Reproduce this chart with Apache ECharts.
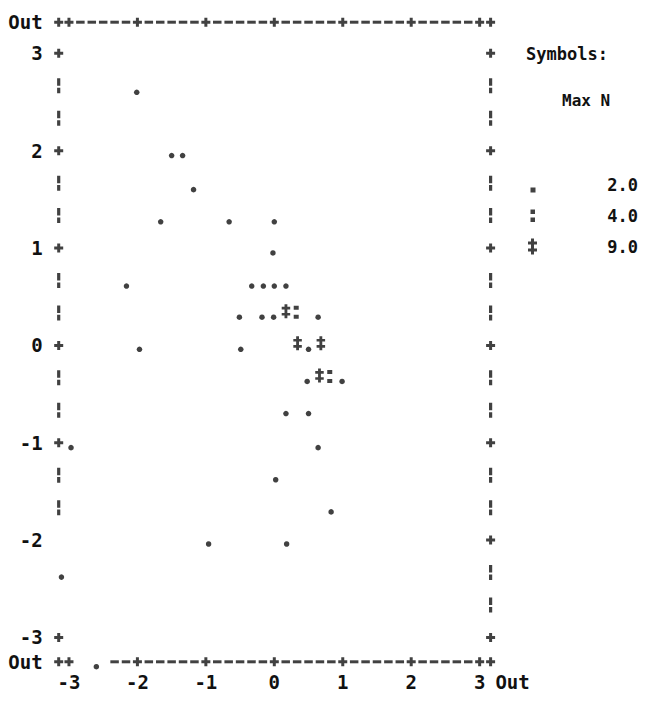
<!DOCTYPE html>
<html><head><meta charset="utf-8">
<script src="https://cdn.jsdelivr.net/npm/echarts@6/dist/echarts.min.js"></script>
<style>html,body{margin:0;padding:0;background:#fff}#c{width:646px;height:710px}</style>
</head><body><div id="c"></div>
<script>
// ---- data ----
const xTicks = [-3, -2, -1, 0, 1, 2, 3];
const yTicks = [-3, -2, -1, 0, 1, 2, 3];
// cells holding 1-2 cases (".")
const dots = [
  [-2.01, 2.60],
  [-1.50, 1.95], [-1.34, 1.95],
  [-1.18, 1.60],
  [-1.66, 1.27], [-0.66, 1.27], [0.00, 1.27],
  [-0.02, 0.95],
  [-2.16, 0.61], [-0.33, 0.61], [-0.16, 0.61], [0.00, 0.61], [0.17, 0.61],
  [-0.51, 0.29], [-0.18, 0.29], [-0.01, 0.29], [0.64, 0.29],
  [-1.97, -0.04], [-0.49, -0.04], [0.50, -0.04],
  [0.48, -0.37], [0.99, -0.37],
  [0.17, -0.70], [0.50, -0.70],
  [-2.97, -1.05], [0.64, -1.05],
  [0.02, -1.38],
  [0.83, -1.71],
  [-0.96, -2.04], [0.18, -2.04],
  [-3.11, -2.38],
  [-2.60, -3.30]
];
// cells holding 3-4 cases (":")
const colons = [[0.32, 0.29], [0.81, -0.37]];
// cells holding 5-9 cases ("*")
const stars = [[0.17, 0.29], [0.34, -0.04], [0.68, -0.04], [0.66, -0.37]];
const maxN = ['2.0', '4.0', '9.0'];

// ---- layout / style ----
const X_MIN = -3.15, X_MAX = 3.16, Y_MIN = -3.25, Y_MAX = 3.32;
const INK = '#111111';
const FONT = 'DejaVu Sans Mono';
const COLON_P = 'path://M0,0h4v4h-4zM0,9h4v4h-4z';
const STAR_P = 'path://M3,0h3v16h-3zM0,3h9v3h-9zM0,10h9v3h-9z';
const PLUS_P = 'path://M3,0h3v9h-3zM0,3h9v3h-9z';
const VBAR_P = 'path://M0,0h3v8h-3zM0,10h3v6h-3z';

// frame built from the tick arrays
const plus = [], dash = [], vbar = [];
[X_MIN, X_MAX].forEach(x => { plus.push([x, Y_MAX]); plus.push([x, Y_MIN]); });
xTicks.forEach(x => { plus.push([x, Y_MAX]); plus.push([x, Y_MIN]); });
xTicks.slice(0, -1).forEach(k => {
  for (let j = 1; j <= 5; j++) {
    dash.push([k + j / 6, Y_MAX]);
    if (!(k === -3 && j <= 3)) dash.push([k + j / 6, Y_MIN]);
  }
});
yTicks.forEach(y => { if (y !== -2) plus.push([X_MIN, y]); plus.push([X_MAX, y]); });
yTicks.slice(0, -1).forEach(k => {
  [1, 2].forEach(j => {
    const y = k + j / 3;
    if (k !== -3) vbar.push([X_MIN, y]);
    vbar.push([X_MAX, y]);
  });
});

const frameSeries = (data, symbol, size) => ({
  type: 'scatter', data, symbol, symbolSize: size, silent: true, clip: false,
  itemStyle: { color: INK }, z: 1
});

const labelStyle = { color: INK, fontFamily: FONT, fontWeight: 'bold', fontSize: 19 };

const chart = echarts.init(document.getElementById('c'), null, { renderer: 'svg' });
chart.setOption({
  backgroundColor: '#ffffff',
  animation: false,
  title: [
    { text: 'Symbols:', left: 526, top: 45, padding: 0,
      textStyle: { color: INK, fontFamily: FONT, fontWeight: 'bold', fontSize: 17 } },
    { text: 'Max N', left: 562, top: 92, padding: 0,
      textStyle: { color: INK, fontFamily: FONT, fontWeight: 'bold', fontSize: 16 } }
  ],
  legend: {
    orient: 'vertical', left: 528, top: 176, itemWidth: 9, itemHeight: 16, itemGap: 14,
    selectedMode: false, padding: 0,
    data: [
      { name: maxN[0], icon: 'path://M0,0M9,16M2.5,11h5v5h-5z' },
      { name: maxN[1], icon: 'path://M0,0M9,16M2.5,2h4.5v4.5h-4.5zM2.5,10h4.5v4.5h-4.5z' },
      { name: maxN[2], icon: STAR_P }
    ],
    formatter: n => '{n|' + n + '}',
    textStyle: { color: INK, lineHeight: 16,
      rich: { n: { width: 96, align: 'right', color: INK, fontFamily: FONT, fontWeight: 'bold', fontSize: 17 } } }
  },
  grid: { left: 58.7, right: 646 - 490.6, top: 22.2, bottom: 710 - 661.8, containLabel: false },
  xAxis: {
    type: 'value', min: X_MIN, max: X_MAX,
    axisLine: { show: false }, axisTick: { show: false }, splitLine: { show: false },
    axisLabel: {
      customValues: xTicks.concat([X_MAX]), margin: 11, ...labelStyle,
      formatter: v => (v > 3.05 ? '{o|Out}' : String(v)),
      rich: { o: { padding: [0, 0, 0, 44], ...labelStyle } }
    }
  },
  yAxis: {
    type: 'value', min: Y_MIN, max: Y_MAX,
    axisLine: { show: false }, axisTick: { show: false }, splitLine: { show: false },
    axisLabel: {
      customValues: [Y_MIN].concat(yTicks, [Y_MAX]), margin: 16, ...labelStyle,
      formatter: v => (Math.abs(v) > 3.05 ? 'Out' : String(v))
    }
  },
  series: [
    frameSeries(plus, PLUS_P, [9, 9]),
    frameSeries(dash, 'rect', [8.5, 3]),
    frameSeries(vbar, VBAR_P, [3.2, 15]),
    { name: maxN[0], type: 'scatter', data: dots, symbol: 'circle', symbolSize: 5.5,
      itemStyle: { color: INK }, clip: false, z: 3 },
    { name: maxN[1], type: 'scatter', data: colons, symbol: COLON_P, symbolSize: [5, 13],
      symbolOffset: [0, -5], itemStyle: { color: INK }, clip: false, z: 3 },
    { name: maxN[2], type: 'scatter', data: stars, symbol: STAR_P, symbolSize: [8.5, 14],
      symbolOffset: [0, -6], itemStyle: { color: INK }, clip: false, z: 3 }
  ]
});
</script>
</body></html>
